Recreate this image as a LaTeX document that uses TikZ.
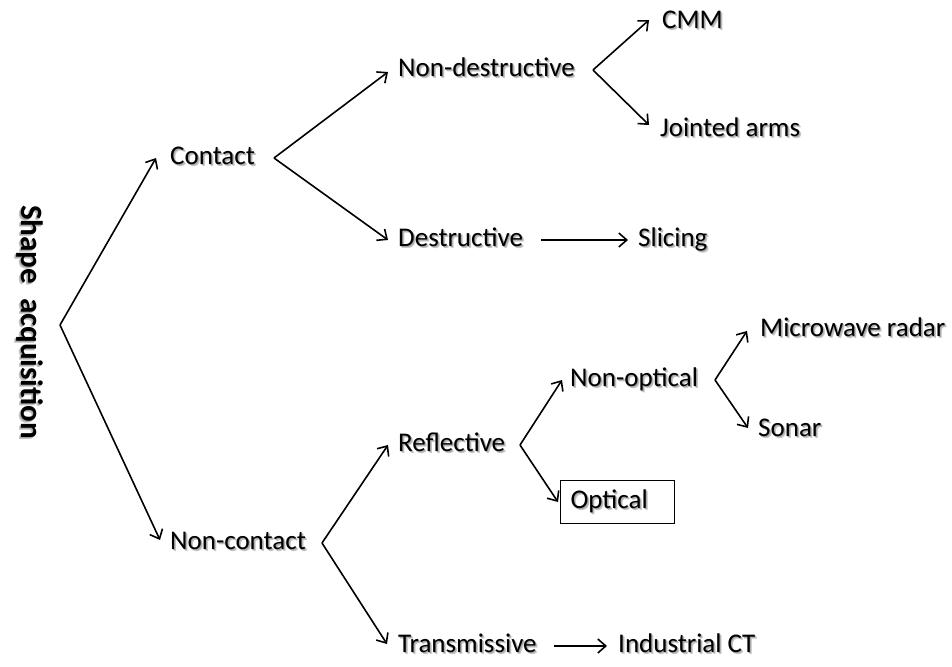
\documentclass[tikz,border=0pt]{standalone}
\usepackage{fontspec}
\setmainfont{Carlito}
\usetikzlibrary{arrows.meta,calc}
% text with a soft grey drop shadow
\newcommand\shadowtext[1]{\makebox[0pt][l]{\hspace{2pt}\raisebox{-2pt}{\textcolor{black!22}{#1}}}\makebox[0pt][l]{\hspace{1pt}\raisebox{-1pt}{\textcolor{black!35}{#1}}}#1}
\tikzset{
  lbl/.style={anchor=west,inner sep=0pt,text height=18pt,text depth=5pt,font=\fontsize{27}{32}\selectfont},
  arr/.style={line width=1.6pt,-{Straight Barb[length=8pt,width=14pt,line width=1.6pt]}},
  boxed/.style={draw,line width=1pt,inner xsep=10pt,text width=94pt,align=left,minimum height=43pt}
}
\begin{document}
\begin{tikzpicture}[x=1pt,y=-1pt]
\useasboundingbox (0,0) rectangle (952,666);
% root label, read top to bottom
\node[rotate=-90,font=\bfseries\fontsize{31}{36}\selectfont] (root) at (29,322) {\shadowtext{Shape\ \ acquisition}};
% labels
\node[lbl] (contact) at (170,158) {\shadowtext{Contact}};
\node[lbl] (noncontact) at (170,543) {\shadowtext{Non-contact}};
\node[lbl] (nondes) at (398,70) {\shadowtext{Non-destructive}};
\node[lbl] (des) at (398,240) {\shadowtext{Destructive}};
\node[lbl] (slicing) at (638,240) {\shadowtext{Slicing}};
\node[lbl] (cmm) at (662,22) {\shadowtext{CMM}};
\node[lbl] (jointed) at (660,130) {\shadowtext{Jointed arms}};
\node[lbl] (reflective) at (398,445) {\shadowtext{Reflective}};
\node[lbl] (transmissive) at (398,646) {\shadowtext{Transmissive}};
\node[lbl] (industrial) at (618,646) {\shadowtext{Industrial CT}};
\node[lbl] (nonoptical) at (570,380) {\shadowtext{Non-optical}};
\node[lbl] (microwave) at (760,330) {\shadowtext{Microwave radar}};
\node[lbl] (sonar) at (758,430) {\shadowtext{Sonar}};
\node[lbl,boxed] (optical) at (560,502) {\shadowtext{Optical}};
% branch points
\coordinate (bRoot) at (60,325);
\coordinate (bContact) at (274,158);
\coordinate (bNondes) at (593,70);
\coordinate (bNoncontact) at (322,543);
\coordinate (bReflective) at (520,445);
\coordinate (bNonoptical) at (715,380);
% connectors
\draw[arr] (bRoot) -- ($(contact.west)+(-14,0)$);
\draw[arr] (bRoot) -- ($(noncontact.west)+(-10,-3)$);
\draw[arr] (bContact) -- ($(nondes.west)+(-10,2)$);
\draw[arr] (bContact) -- ($(des.west)+(-10,0)$);
\draw[arr] ($(des.east)+(18,0)$) -- ($(slicing.west)+(-10,0)$);
\draw[arr] (bNondes) -- ($(cmm.west)+(-13,-2)$);
\draw[arr] (bNondes) -- ($(jointed.west)+(-11,-5)$);
\draw[arr] (bNoncontact) -- ($(reflective.west)+(-10,0)$);
\draw[arr] (bNoncontact) -- ($(transmissive.west)+(-11,-2)$);
\draw[arr] ($(transmissive.east)+(17,0)$) -- ($(industrial.west)+(-11,0)$);
\draw[arr] (bReflective) -- ($(nonoptical.west)+(-8,0)$);
\draw[arr] (bReflective) -- ($(optical.west)+(-2,0)$);
\draw[arr] (bNonoptical) -- ($(microwave.west)+(-13,1)$);
\draw[arr] (bNonoptical) -- ($(sonar.west)+(-10,-2)$);
\end{tikzpicture}
\end{document}
